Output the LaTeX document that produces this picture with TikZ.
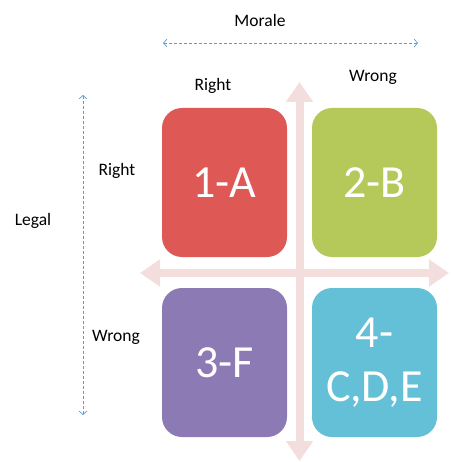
\documentclass[tikz,border=0pt]{standalone}
\usepackage{fontspec}
\setmainfont{Carlito}
\usepackage{xcolor}
\usepackage{tikz}
\usetikzlibrary{arrows.meta}

\definecolor{cellred}{RGB}{222,89,85}
\definecolor{cellgreen}{RGB}{181,201,90}
\definecolor{cellpurple}{RGB}{140,122,181}
\definecolor{cellcyan}{RGB}{100,192,214}
\definecolor{axispink}{RGB}{243,221,221}
\definecolor{axisblue}{RGB}{91,155,213}

\tikzset{
  cell/.style={rounded corners=20pt, minimum width=125pt, minimum height=149pt,
    inner sep=0pt, text=white, align=center,
    font=\fontsize{46}{54}\selectfont},
  label/.style={font=\fontsize{17.5}{20}\selectfont},
  bigarrow/.style={draw=axispink, line width=8pt,
    {Triangle[width=26pt,length=20pt]}-{Triangle[width=26pt,length=20pt]}},
  thinarrow/.style={draw=axisblue, densely dashed, line width=0.7pt,
    {Straight Barb[length=3.5pt,width=8pt]}-{Straight Barb[length=3.5pt,width=8pt]}}
}

\begin{document}
\begin{tikzpicture}[x=1pt,y=-1pt]
\useasboundingbox (0,0) rectangle (450,462);

% pink axes
\coordinate (vtop) at (299.5,82);
\coordinate (vbot) at (299.5,461);
\coordinate (hleft) at (140,273);
\coordinate (hright) at (449,273);
\draw[bigarrow] (vtop) -- (vbot);
\draw[bigarrow] (hleft) -- (hright);

% the four cells
\node[cell, fill=cellred] (boxA) at (224.5,182.5) {1-A};
\node[cell, fill=cellgreen] (boxB) at (374.5,182.5) {2-B};
\node[cell, fill=cellpurple] (boxF) at (224.5,362.5) {3-F};
\node[cell, fill=cellcyan] (boxCDE) at (374.5,362.5) {4-\\C,D,E};

% blue axes
\coordinate (mleft) at (163,43);
\coordinate (mright) at (418,43);
\coordinate (ltop) at (83,95);
\coordinate (lbot) at (83,415);
\draw[thinarrow] (mleft) -- (mright);
\draw[thinarrow] (ltop) -- (lbot);

% labels
\node[label] (morale) at (260,20) {Morale};
\node[label] (colright) at (213,86) {Right};
\node[label] (colwrong) at (373,77) {Wrong};
\node[label] (legal) at (33,221) {Legal};
\node[label] (rowright) at (117,171) {Right};
\node[label] (rowwrong) at (116,337) {Wrong};
\end{tikzpicture}
\end{document}
